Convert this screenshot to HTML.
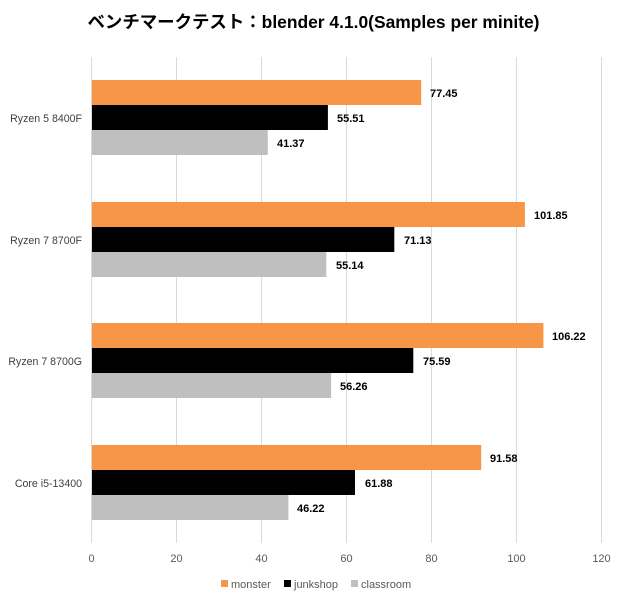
<!DOCTYPE html>
<html><head><meta charset="utf-8"><style>
body{margin:0;background:#fff;}
svg text{font-family:"Liberation Sans","Noto Sans CJK JP",sans-serif;}
</style></head><body>
<svg width="620" height="600" xmlns="http://www.w3.org/2000/svg">
<rect width="620" height="600" fill="#fff"/>
<text x="313.5" y="28" text-anchor="middle" font-size="17.4" font-weight="bold" fill="#000" textLength="452" lengthAdjust="spacingAndGlyphs">ベンチマークテスト：blender 4.1.0(Samples per minite)</text>
<g stroke="#d9d9d9" stroke-width="1">
<line x1="91.5" y1="57" x2="91.5" y2="543"/>
<line x1="176.5" y1="57" x2="176.5" y2="543"/>
<line x1="261.5" y1="57" x2="261.5" y2="543"/>
<line x1="346.5" y1="57" x2="346.5" y2="543"/>
<line x1="431.5" y1="57" x2="431.5" y2="543"/>
<line x1="516.5" y1="57" x2="516.5" y2="543"/>
<line x1="601.5" y1="57" x2="601.5" y2="543"/>
</g>
<g font-size="11" fill="#595959" text-anchor="middle">
<text x="91.5" y="562">0</text><text x="176.5" y="562">20</text><text x="261.5" y="562">40</text><text x="346.5" y="562">60</text><text x="431.5" y="562">80</text><text x="516.5" y="562">100</text><text x="601.5" y="562">120</text>
</g>
<g font-size="10.6" fill="#404040" text-anchor="end">
<text x="82" y="122">Ryzen 5 8400F</text>
<text x="82" y="244">Ryzen 7 8700F</text>
<text x="82" y="365">Ryzen 7 8700G</text>
<text x="82" y="487">Core i5-13400</text>
</g>
<g>
<rect x="92" y="80" width="329.2" height="25" fill="#f79646"/>
<rect x="92" y="105" width="235.9" height="25" fill="#000"/>
<rect x="92" y="130" width="175.8" height="25" fill="#bfbfbf"/>
<rect x="92" y="202" width="432.9" height="25" fill="#f79646"/>
<rect x="92" y="227" width="302.3" height="25" fill="#000"/>
<rect x="92" y="252" width="234.3" height="25" fill="#bfbfbf"/>
<rect x="92" y="323" width="451.4" height="25" fill="#f79646"/>
<rect x="92" y="348" width="321.3" height="25" fill="#000"/>
<rect x="92" y="373" width="239.1" height="25" fill="#bfbfbf"/>
<rect x="92" y="445" width="389.2" height="25" fill="#f79646"/>
<rect x="92" y="470" width="263.0" height="25" fill="#000"/>
<rect x="92" y="495" width="196.4" height="25" fill="#bfbfbf"/>
</g>
<g font-size="11" font-weight="bold" fill="#000">
<text x="430" y="97">77.45</text><text x="337" y="122">55.51</text><text x="277" y="147">41.37</text>
<text x="534" y="219">101.85</text><text x="404" y="244">71.13</text><text x="336" y="269">55.14</text>
<text x="552" y="340">106.22</text><text x="423" y="365">75.59</text><text x="340" y="390">56.26</text>
<text x="490" y="462">91.58</text><text x="365" y="487">61.88</text><text x="297" y="512">46.22</text>
</g>
<g font-size="11" fill="#595959">
<rect x="221" y="580" width="7" height="7" fill="#f79646"/><text x="231" y="588">monster</text>
<rect x="284" y="580" width="7" height="7" fill="#000"/><text x="294" y="588">junkshop</text>
<rect x="351" y="580" width="7" height="7" fill="#bfbfbf"/><text x="361" y="588">classroom</text>
</g>
</svg>
</body></html>
